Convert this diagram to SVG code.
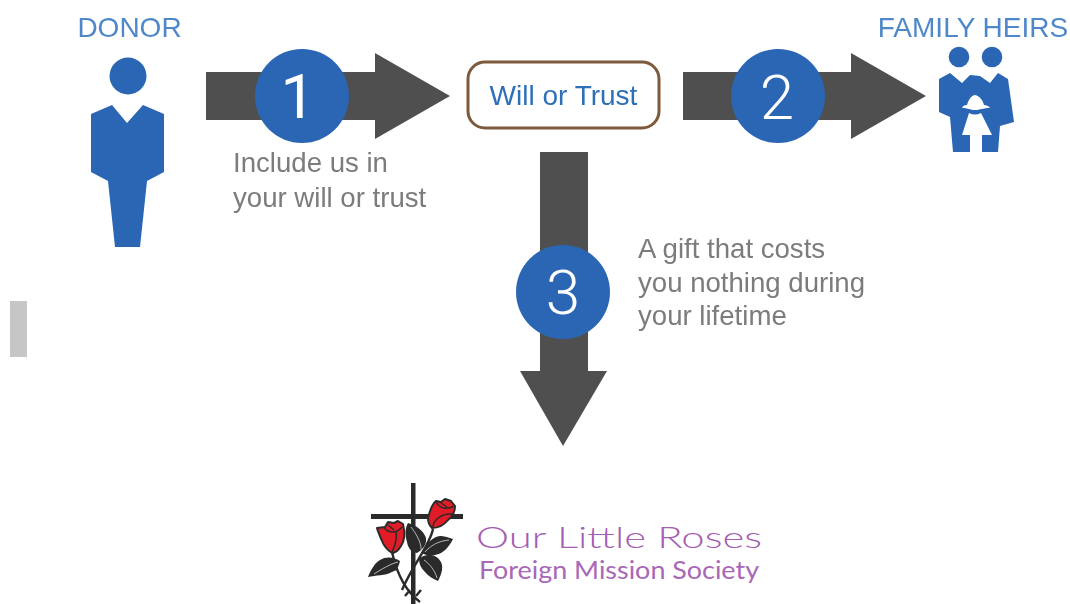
<svg xmlns="http://www.w3.org/2000/svg" width="1070" height="604" viewBox="0 0 1070 604">
<style>
.sans{font-family:"Liberation Sans",Arial,sans-serif}
.blue{fill:#2a66b4}
.arrow{fill:#4f4f4f}
.label{fill:#4f88c9;font-size:28px}
.note{fill:#7b7b7b;font-size:27.600px}
.num{fill:#fff;font-size:62px;text-anchor:middle;font-family:Roboto,"Liberation Sans",sans-serif;font-weight:300}
.leaf{fill:#2b2b2b}
.vein{fill:none;stroke:#c4c4c4;stroke-width:.9}
.petal{fill:#e11f26;stroke:#2a2a2a;stroke-width:2;stroke-linejoin:round}
.fold{fill:none;stroke:#2a2a2a;stroke-width:1.500}
.stem{fill:none;stroke:#2b2b2b;stroke-width:2.400}
.soft{filter:url(#soft)}
.softer{filter:url(#softer)}
</style>
<defs>
<filter id="soft" x="-5%" y="-5%" width="110%" height="110%"><feGaussianBlur stdDeviation="0.7"/></filter>
<filter id="softer" x="-5%" y="-5%" width="110%" height="110%"><feGaussianBlur stdDeviation="0.35"/></filter>
</defs>
<rect width="1070" height="604" fill="#fff"/>
<rect id="grey-bar" x="10" y="301" width="17" height="56" fill="#c6c6c6"/>
<g id="connectors" class="soft">
<path class="arrow" d="M206 72H375V53L450 96L375 139V120H206Z"/>
<path class="arrow" d="M683 72H851V53L926 96L851 139V120H683Z"/>
<path class="arrow" d="M540 152H588V371H607L563 446L520 371H540Z"/>
</g>
<g id="donor" class="soft">
<text class="sans label" x="129.500" y="37" text-anchor="middle">DONOR</text>
<circle class="blue" cx="128" cy="76" r="18.500"/>
<path class="blue" d="M91 114L112 105L127 123L143 105L164 114V172L147 181L140 247H115L108 181L91 172Z"/>
</g>
<g id="step-1" class="soft">
<circle class="blue" cx="302" cy="96" r="47"/>
<text class="num" x="298" y="118" style="font-weight:400">1</text>
<text class="sans note" x="233" y="172">Include us in</text>
<text class="sans note" x="233" y="207">your will or trust</text>
</g>
<g id="will-or-trust" class="soft">
<rect x="468" y="62" width="191" height="66" rx="17" fill="#fff" stroke="#7d5a3a" stroke-width="3"/>
<text class="sans" x="563.500" y="105" text-anchor="middle" font-size="28" fill="#2f6fb8">Will or Trust</text>
</g>
<g id="step-2" class="soft">
<circle class="blue" cx="778" cy="96" r="47"/>
<text class="num" x="777" y="119">2</text>
</g>
<g id="family-heirs" class="soft">
<text class="sans label" x="973" y="37" text-anchor="middle">FAMILY HEIRS</text>
<circle class="blue" cx="959" cy="57" r="10.300"/>
<circle class="blue" cx="992" cy="57" r="10.300"/>
<path class="blue" d="M939 79L950 73L962 83L970 75L980 76L990 83L998 73L1008 79L1014 122L1000 126L998 152H982V135H970V152H953L950 117L939 112Z"/>
<path fill="#fff" d="M975 95C970 96 968 102 967 105C964 105 963 106 962 108C968 108 970 110 975 110C980 110 983 108 990 108C989 106 986 105 984 105C983 101 980 96 975 95Z"/>
<path fill="#fff" d="M969 113Q975 116 981 113L992 135H962Z"/>
</g>
<g id="step-3" class="soft">
<circle class="blue" cx="563" cy="292" r="47"/>
<text class="num" x="563" y="314">3</text>
<text class="sans note" x="638" y="258">A gift that costs</text>
<text class="sans note" x="638" y="292">you nothing during</text>
<text class="sans note" x="638" y="325">your lifetime</text>
</g>
<g id="logo">
<g class="softer">
<rect x="411" y="483" width="4.500" height="121" fill="#2b2b2b"/>
<rect x="371" y="514" width="92" height="5" fill="#2b2b2b"/>
<path class="stem" d="M392 552C396 570 404 590 420 602M433 529C430 545 412 566 402 590M396 570L391 566M410 590L405 596M416 596L421 590"/>
<path class="leaf" d="M408 523C416 525 424 531 426 538C427 545 422 550 417 553C411 552 408 548 407 542C405 535 405 528 408 523Z"/>
<path class="leaf" d="M453 539C447 537 444 536 440 536C433 537 427 542 422 553C427 556 431 556 435 555C443 554 449 547 453 539Z"/>
<path class="leaf" d="M419 559C423 555 427 555 431 555C437 556 441 560 442 565C443 571 440 577 438 581C433 579 428 576 425 572C421 568 419 564 419 559Z"/>
<path class="leaf" d="M368 577C371 569 375 563 380 560C386 556 394 557 400 561C399 566 397 570 392 572C385 576 376 575 368 577Z"/>
<path class="vein" d="M411 527C418 536 422 545 421 552M449 540C438 541 430 546 425 552M424 560C430 564 435 571 437 578M374 574C382 569 390 564 398 562"/>
<g id="rose-left">
<path class="petal" d="M377 528L385 527L388 522L394 523L398 521L403 524C405 532 405 540 401 546C398 551 394 553 392 553C387 550 384 546 382 541C380 536 378 532 377 528Z"/>
<path class="fold" d="M384 528C389 533 396 534 402 527M392 552C395 546 397 538 396 531M388 525L394 530"/>
</g>
<g id="rose-right">
<path class="petal" d="M428 518C430 510 432 504 436 501L441 502L445 499L451 501L455 506C455 512 452 517 448 520C444 525 438 528 432 528C429 525 428 522 428 518Z"/>
<path class="fold" d="M436 502C440 509 447 510 454 506M433 527C433 520 442 513 452 514M441 503L447 507"/>
</g>
</g>
<text x="476" y="548" font-family="Lato,sans-serif" font-weight="300" font-size="30" fill="#a45db3" textLength="286" lengthAdjust="spacingAndGlyphs">Our Little Roses</text>
<text x="479" y="579" font-family="Lato,sans-serif" font-size="25.500" fill="#a867b7" textLength="280" lengthAdjust="spacingAndGlyphs">Foreign Mission Society</text>
</g>
</svg>
